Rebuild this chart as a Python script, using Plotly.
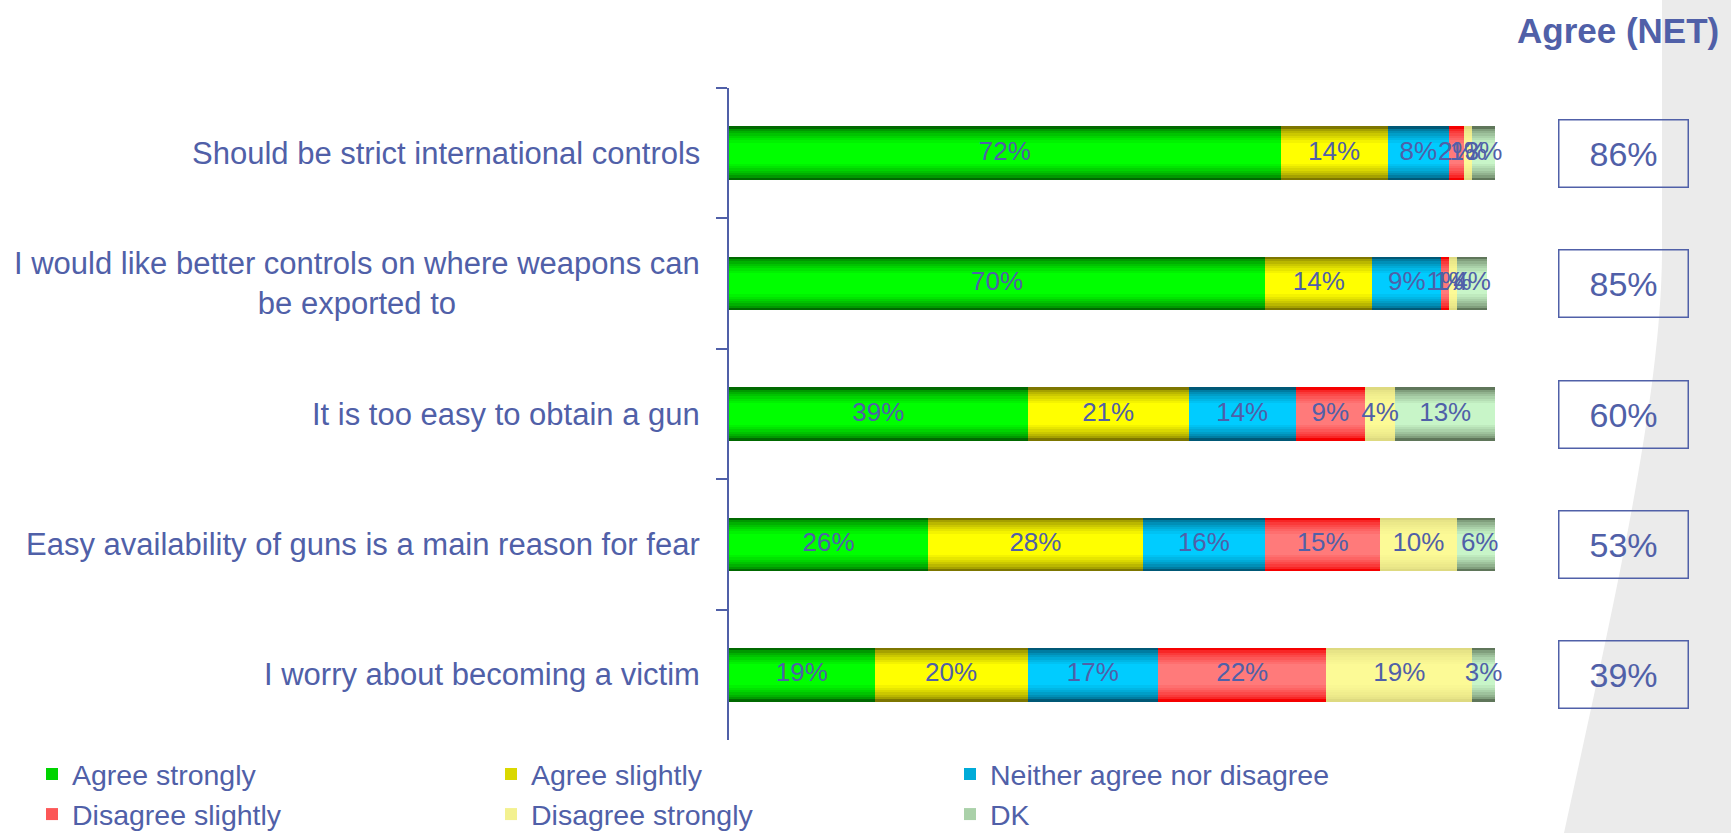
import plotly.graph_objects as go

# ---------------- data ----------------
categories = [
    "Should be strict international controls",
    "I would like better controls on where weapons can<br>be exported to",
    "It is too easy to obtain a gun",
    "Easy availability of guns is a main reason for fear",
    "I worry about becoming a victim",
]
series_names = ["Agree strongly", "Agree slightly", "Neither agree nor disagree",
                "Disagree slightly", "Disagree strongly", "DK"]
agree_strongly = [72, 70, 39, 26, 19]
agree_slightly = [14, 14, 21, 28, 20]
neither = [8, 9, 14, 16, 17]
disagree_slightly = [2, 1, 9, 15, 22]
disagree_strongly = [1, 1, 4, 10, 19]
dk = [3, 4, 13, 6, 3]
agree_net = [86, 85, 60, 53, 39]
net_title = "Agree (NET)"

series_values = [agree_strongly, agree_slightly, neither,
                 disagree_slightly, disagree_strongly, dk]

# ---------------- styles ----------------
W, H = 1731, 833


def px(x):  # pixel x -> paper
    return x / W


def py(y):  # pixel y (from top) -> paper
    return 1 - y / H


TXT = "#5060A8"
FONT = "Liberation Sans, Arial, sans-serif"
# (edge colour, centre colour) to mimic the shaded bars
shades = [
    ((0, 105, 0), (0, 255, 0)),
    ((125, 118, 0), (255, 255, 0)),
    ((0, 88, 118), (0, 204, 255)),
    ((245, 0, 0), (255, 122, 122)),
    ((222, 218, 128), (252, 250, 150)),
    ((95, 118, 90), (200, 245, 200)),
]
BAR_W = 0.41
N_LAYERS = 8


def lerp(c1, c2, t):
    return "rgb(%d,%d,%d)" % tuple(round(a + (b - a) * t) for a, b in zip(c1, c2))


fig = go.Figure()

# stacked starting positions computed from the data
starts = []
acc = [0] * len(categories)
for vals in series_values:
    starts.append(list(acc))
    acc = [a + v for a, v in zip(acc, vals)]

for si, (name, vals) in enumerate(zip(series_names, series_values)):
    edge, centre = shades[si]
    for k in range(N_LAYERS):
        t = k / (N_LAYERS - 1)
        width = BAR_W * (1 - 0.6 * t)
        col = lerp(edge, centre, min(1.0, t ** 0.6))
        fig.add_trace(go.Bar(
            y=categories, x=vals, base=starts[si], orientation="h",
            width=width, name=name,
            marker=dict(color=col, line=dict(width=0)),
            showlegend=(k == N_LAYERS // 2), legendgroup=name,
            hoverinfo="skip",
        ))

# segment labels
for si, vals in enumerate(series_values):
    fig.add_trace(go.Scatter(
        y=categories, x=[s + v / 2 for s, v in zip(starts[si], vals)],
        mode="text", text=[f"{v}%" for v in vals],
        textposition="middle center",
        textfont=dict(family=FONT, size=26, color=TXT),
        showlegend=False, hoverinfo="skip", cliponaxis=False,
    ))

annotations = []
# category labels
for c in categories:
    annotations.append(dict(
        x=px(702), xref="paper", xanchor="right", y=c, yref="y",
        text=c, showarrow=False, align="center",
        font=dict(family=FONT, size=31, color=TXT)))
# NET boxes
for c, v in zip(categories, agree_net):
    annotations.append(dict(
        x=px(1623), xref="paper", xanchor="center", y=c, yref="y",
        text=f"{v}%", showarrow=False, width=124, height=62,
        bordercolor=TXT, borderwidth=1.5, borderpad=2,
        font=dict(family=FONT, size=34, color=TXT)))
annotations.append(dict(
    x=px(1618), xref="paper", xanchor="center", y=py(31), yref="paper",
    yanchor="middle", text=f"<b>{net_title}</b>", showarrow=False,
    font=dict(family=FONT, size=35, color=TXT)))

fig.update_layout(
    width=W, height=H,
    margin=dict(l=0, r=0, t=0, b=0, autoexpand=False),
    paper_bgcolor="white", plot_bgcolor="rgba(0,0,0,0)",
    barmode="overlay", bargap=0,
    hovermode=False,
    xaxis=dict(domain=[px(729), px(1495)], range=[0, 100], visible=False,
               fixedrange=True),
    yaxis=dict(domain=[py(740), py(88)], type="category",
               categoryorder="array", categoryarray=categories,
               range=[len(categories) - 0.5, -0.5],
               showticklabels=False, showgrid=False, zeroline=False,
               showline=True, linecolor=TXT, linewidth=2,
               ticks="outside", tickson="boundaries", ticklen=11,
               tickcolor=TXT, tickwidth=2, automargin=False, fixedrange=True),
    legend=dict(orientation="h", x=px(32), xanchor="left", y=py(749),
                yanchor="top",
                entrywidth=414, entrywidthmode="pixels",
                font=dict(family=FONT, size=28.5, color=TXT),
                bgcolor="rgba(0,0,0,0)", traceorder="normal"),
    annotations=annotations,
    shapes=[dict(
        type="path", xref="paper", yref="paper", layer="below",
        path=(f"M {px(1662)},1 L 1,1 L 1,0 L {px(1564)},0 "
              f"C {px(1610)},{py(620)} {px(1662)},{py(400)} {px(1662)},{py(250)} Z"),
        fillcolor="#EBEBEB", line=dict(width=0))],
)

fig.write_html(
    "out.html",
    config={"displayModeBar": False},
    post_script="document.body.style.margin='0';"
                "document.documentElement.style.overflow='hidden';",
)
